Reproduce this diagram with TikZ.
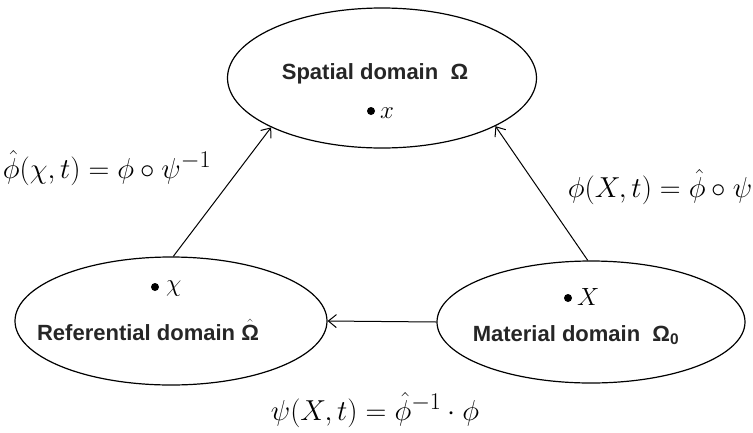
\documentclass[tikz,border=0pt]{standalone}
\usepackage{graphicx}
\usepackage{fontspec}
\setsansfont{Liberation Sans}
\usetikzlibrary{shapes.geometric,arrows.meta}
\newcommand{\biglbl}[1]{\scalebox{1.16}{#1}}
\tikzset{
  dom/.style={draw, ellipse, line width=1.2pt, inner sep=0pt},
  lbl/.style={font=\sffamily\bfseries\fontsize{22}{26}\selectfont, text=black!85, inner sep=0pt},
  mlbl/.style={font=\fontsize{24.88}{30}\selectfont, inner sep=0pt},
  pt/.style={circle, fill=black, inner sep=0pt, minimum size=8pt},
  pvar/.style={font=\fontsize{24.88}{30}\selectfont, inner sep=0pt, anchor=west},
  conn/.style={line width=1pt, -{Straight Barb[length=8pt,width=13pt]}}
}
\begin{document}
\begin{tikzpicture}[x=1pt,y=-1pt]
\useasboundingbox (0,0) rectangle (753,432);
% ellipses
\node[dom, minimum width=309pt, minimum height=140pt] (sp) at (382,78) {};
\node[dom, minimum width=312pt, minimum height=128pt] (ref) at (171,321) {};
\node[dom, minimum width=308pt, minimum height=122pt] (mat) at (591,322) {};
% texts inside
\node[lbl] (spt) at (375,74) {Spatial domain\ \ Ω};
\node[pt] (spd) at (371,111) {};
\node[pvar] (spx) at (380,113) {$x$};
\node[pt] (refd) at (155,287) {};
\node[pvar] (refx) at (166,289) {$\chi$};
\node[lbl] (reft) at (148,330) {Referential domain $\hat{\mbox{Ω}}$};
\node[pt] (matd) at (568,298) {};
\node[pvar] (matx) at (577,297) {$X$};
\node[lbl] (matt) at (576,335) {Material domain\ \ Ω\textsubscript{0}};
% connectors
\draw[conn] (ref.88) -- (sp.204);
\draw[conn] (mat.93) -- (sp.-23);
\draw[conn] (mat.west) -- (ref.east);
% labels
\node[mlbl] (l1) at (107,168) {\biglbl{$\hat{\phi}(\chi,t)=\phi\circ\psi^{-1}$}};
\node[mlbl] (l2) at (660,187) {\biglbl{$\phi(X,t)=\hat{\phi}\circ\psi$}};
\node[mlbl] (l3) at (375,410) {\biglbl{$\psi(X,t)=\hat{\phi}^{-1}\cdot\phi$}};
\end{tikzpicture}
\end{document}
